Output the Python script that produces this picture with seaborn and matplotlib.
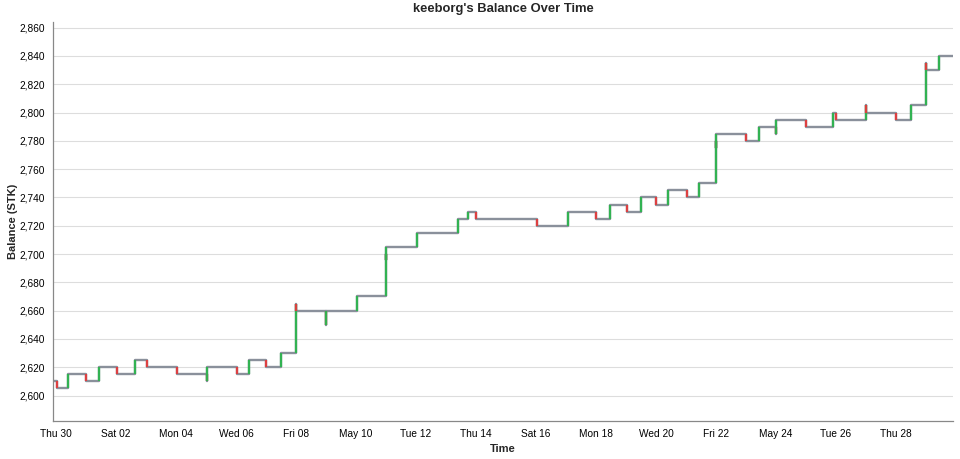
import pandas as pd
import matplotlib
matplotlib.use("Agg")
import matplotlib.pyplot as plt
import matplotlib.dates as mdates
import seaborn as sns

# balance after each transaction (several rows can share a timestamp)
times = [
    "2020-04-29 21:40", "2020-04-30 00:30", "2020-04-30 09:20", "2020-05-01 00:15",
    "2020-05-01 10:30", "2020-05-02 01:00", "2020-05-02 15:10", "2020-05-03 00:30",
    "2020-05-04 00:30", "2020-05-05 00:30", "2020-05-05 00:30", "2020-05-06 00:30",
    "2020-05-06 10:30", "2020-05-07 00:15", "2020-05-07 12:00", "2020-05-08 00:15",
    "2020-05-08 00:15", "2020-05-09 00:15", "2020-05-09 00:15", "2020-05-10 01:00",
    "2020-05-11 00:15", "2020-05-11 00:15", "2020-05-11 00:15", "2020-05-12 00:30",
    "2020-05-13 10:00", "2020-05-13 17:30", "2020-05-14 00:15", "2020-05-16 00:30",
    "2020-05-17 01:30", "2020-05-18 00:00", "2020-05-18 11:30", "2020-05-19 00:30",
    "2020-05-19 11:45", "2020-05-20 00:00", "2020-05-20 10:00", "2020-05-21 00:30",
    "2020-05-21 10:20", "2020-05-22 00:00", "2020-05-22 00:00", "2020-05-22 00:00",
    "2020-05-23 00:00", "2020-05-23 10:20", "2020-05-24 00:15", "2020-05-24 00:15",
    "2020-05-25 00:00", "2020-05-25 21:20", "2020-05-26 00:00", "2020-05-27 00:00",
    "2020-05-27 00:00", "2020-05-28 00:00", "2020-05-28 11:45", "2020-05-29 00:00",
    "2020-05-29 00:00", "2020-05-29 10:30", "2020-05-29 21:40",
]
balance = [
    2610, 2605, 2615, 2610,
    2620, 2615, 2625, 2620,
    2615, 2610, 2620, 2615,
    2625, 2620, 2630, 2665,
    2660, 2650, 2660, 2670,
    2700, 2696, 2705, 2715,
    2725, 2730, 2725, 2720,
    2730, 2725, 2735, 2730,
    2740, 2735, 2745, 2740,
    2750, 2780, 2775, 2785,
    2780, 2790, 2785, 2795,
    2790, 2800, 2795, 2805,
    2800, 2795, 2805, 2835,
    2830, 2840, 2840,
]

tick_days = pd.date_range("2020-04-30", "2020-05-29", freq="D")
tick_labels = [
    "Thu 30", "", "Sat 02", "", "Mon 04", "", "Wed 06", "", "Fri 08", "",
    "May 10", "", "Tue 12", "", "Thu 14", "", "Sat 16", "", "Mon 18", "",
    "Wed 20", "", "Fri 22", "", "May 24", "", "Tue 26", "", "Thu 28", "",
]

df = pd.DataFrame({"time": pd.to_datetime(times), "balance": balance})
df["prev"] = df["balance"].shift(1)
chg = df.dropna(subset=["prev"])
chg = chg[chg["balance"] != chg["prev"]]

sns.set_style("white")
plt.rcParams["font.family"] = ["Liberation Sans", "DejaVu Sans"]

fig = plt.figure(figsize=(9.6, 4.59), dpi=100)
ax = fig.add_axes([53 / 960, 1 - 421 / 459, 900 / 960, 399 / 459])

sns.lineplot(data=df, x="time", y="balance", estimator=None, sort=False,
             drawstyle="steps-post", color="#8a909b", linewidth=1.7, ax=ax)
colors = ["#2db54e" if b > p else "#e23c3c" for b, p in zip(chg["balance"], chg["prev"])]
ax.vlines(chg["time"], chg["prev"], chg["balance"], colors=colors,
          linewidth=1.6, alpha=0.95, zorder=3)

ax.set_xlim(df["time"].iloc[0], df["time"].iloc[-1])
ax.set_ylim(2582, 2864)
ax.set_yticks(range(2600, 2861, 20))
ax.set_yticklabels([f"{v:,}" for v in range(2600, 2861, 20)])
ax.set_xticks(mdates.date2num(tick_days))
ax.set_xticklabels(tick_labels)

ax.grid(axis="y", color="#dddddd", linewidth=0.8)
ax.set_axisbelow(True)
for s in ["top", "right"]:
    ax.spines[s].set_visible(False)
for s in ["left", "bottom"]:
    ax.spines[s].set_color("#888888")
    ax.spines[s].set_linewidth(0.9)
ax.tick_params(axis="both", colors="#888888", labelcolor="black",
               labelsize=7.3, length=4, width=0.8, pad=2)

ax.set_title("keeborg's Balance Over Time", fontsize=9.4, fontweight="bold", pad=7)
ax.set_xlabel("Time", fontsize=8, fontweight="bold", labelpad=3)
ax.set_ylabel("Balance (STK)", fontsize=8, fontweight="bold", labelpad=1)

fig.savefig("out.png", dpi=100)
